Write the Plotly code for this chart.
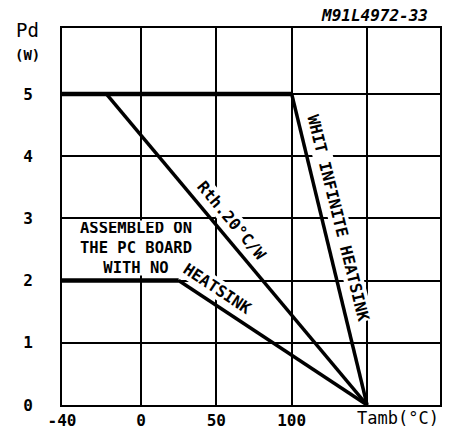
import plotly.graph_objects as go

# ---- data (Tamb in °C, Pd in W) ----
X_LEFT = -52.4          # left edge of the drawn axis (labelled -40)
X_RIGHT = 198.4
flat5_t = [X_LEFT, 100]
flat5_p = [5, 5]
inf_t = [100, 150]
inf_p = [5, 0]
rth_t = [-23, 150]
rth_p = [5, 0]
pcb_flat_t = [X_LEFT, 25]
pcb_flat_p = [2, 2]
pcb_slope_t = [25, 150]
pcb_slope_p = [2, 0]

x_tickvals = [X_LEFT, 0, 50, 100, 150]
x_ticktext = ["<b>-40</b>", "<b>0</b>", "<b>50</b>", "<b>100</b>", ""]
y_tickvals = [0, 1, 2, 3, 4, 5]
y_ticktext = ["<b>0</b>", "<b>1</b>", "<b>2</b>", "<b>3</b>", "<b>4</b>", "<b>5</b>"]

FONT = "DejaVu Sans Mono"
fig = go.Figure()

def line(x, y, w):
    fig.add_trace(go.Scatter(x=x, y=y, mode="lines",
                             line=dict(color="black", width=w),
                             showlegend=False, hoverinfo="skip"))

line(flat5_t, flat5_p, 4.5)
line(inf_t, inf_p, 3.5)
line(rth_t, rth_p, 3.5)
line(pcb_flat_t, pcb_flat_p, 4.5)
line(pcb_slope_t, pcb_slope_p, 3.5)

AF = dict(family=FONT, size=16, color="black")
ann = []
ann.append(dict(x=-3.3, y=2.52, xref="x", yref="y",
                text="<b>ASSEMBLED ON<br>THE PC BOARD<br>WITH NO</b>",
                showarrow=False, font=dict(family=FONT, size=15.5, color="black"),
                bgcolor="white", width=134, height=52, align="center", valign="middle"))
ann.append(dict(x=60.0, y=2.96, xref="x", yref="y", text="<b>Rth.20°C/W</b>", textangle=50,
                showarrow=False, font=AF, bgcolor="white", borderpad=0))
ann.append(dict(x=131.0, y=3.0, xref="x", yref="y", text="<b>WHIT INFINITE HEATSINK</b>", textangle=76,
                showarrow=False, font=AF, bgcolor="white", borderpad=0))
ann.append(dict(x=50.5, y=1.88, xref="x", yref="y", text="<b>HEATSINK</b>", textangle=33.5,
                showarrow=False, font=AF, bgcolor="white", borderpad=0))
ann.append(dict(x=-0.09, y=0.995, xref="paper", yref="paper", text="Pd",
                showarrow=False, font=dict(family=FONT, size=19, color="black"),
                xanchor="center", yanchor="middle"))
ann.append(dict(x=-0.09, y=0.928, xref="paper", yref="paper", text="<b>(W)</b>",
                showarrow=False, font=dict(family=FONT, size=14, color="black"),
                xanchor="center", yanchor="middle"))
ann.append(dict(x=0.889, y=0, xref="paper", yref="paper", text="Tamb(°C)",
                showarrow=False, font=dict(family=FONT, size=17, color="black"),
                xanchor="center", yanchor="top", yshift=-1))
ann.append(dict(x=0.828, y=1.034, xref="paper", yref="paper", text="<b><i>M91L4972-33</i></b>",
                showarrow=False, font=dict(family=FONT, size=16, color="black"),
                xanchor="center", yanchor="middle"))

fig.update_layout(
    width=457, height=443,
    margin=dict(l=62, r=17, t=28, b=38),
    paper_bgcolor="white", plot_bgcolor="white",
    annotations=ann,
    xaxis=dict(range=[X_LEFT, X_RIGHT], tickvals=x_tickvals, ticktext=x_ticktext,
               showgrid=True, gridcolor="black", gridwidth=2, zeroline=False,
               showline=True, linecolor="black", linewidth=2, mirror=True,
               ticks="", tickfont=dict(family=FONT, size=16, color="black")),
    yaxis=dict(range=[0, 6.06], tickvals=y_tickvals, ticktext=y_ticktext,
               showgrid=True, gridcolor="black", gridwidth=2, zeroline=False,
               showline=True, linecolor="black", linewidth=2, mirror=True,
               ticks="", ticklabelstandoff=24,
               tickfont=dict(family=FONT, size=16, color="black")),
)

fig.write_html("out.html", config={"displayModeBar": False},
               post_script="document.body.style.margin='0';document.body.style.overflow='hidden';")
